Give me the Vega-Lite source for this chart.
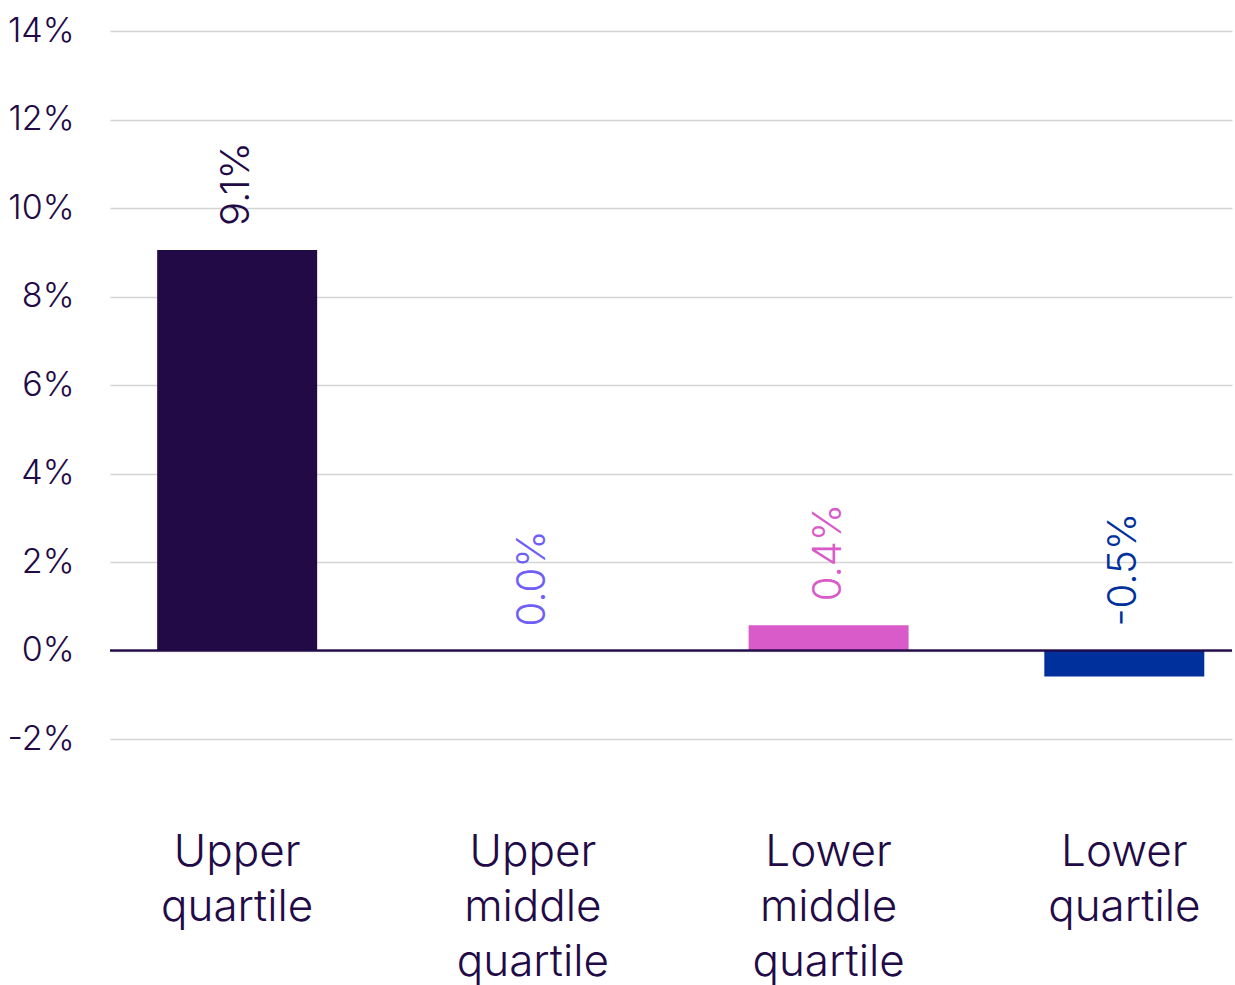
{
  "$schema": "https://vega.github.io/schema/vega-lite/v6.json",
  "width": 1122,
  "height": 708,
  "autosize": "none",
  "padding": {"left": 110, "top": 31, "right": 3, "bottom": 246},
  "background": "white",
  "config": {"view": {"stroke": null}, "font": "Inter"},
  "data": {
    "values": [
      {"group": "Upper quartile", "value": 9.05, "label": "9.1%", "color": "#220a47"},
      {"group": "Upper middle quartile", "value": 0.0, "label": "0.0%", "color": "#6f5ef7"},
      {"group": "Lower middle quartile", "value": 0.57, "label": "0.4%", "color": "#d95ac9"},
      {"group": "Lower quartile", "value": -0.59, "label": "-0.5%", "color": "#00309c"}
    ]
  },
  "layer": [
    {
      "mark": {"type": "bar"},
      "encoding": {
        "x": {
          "field": "group",
          "type": "nominal",
          "sort": null,
          "scale": {"paddingInner": 0.459, "paddingOuter": 0.1266, "align": 0.63},
          "axis": {
            "title": null,
            "domain": false,
            "ticks": false,
            "labelAngle": 0,
            "labelExpr": "split(datum.value, ' ')",
            "labelFont": "Inter",
            "labelFontWeight": 300,
            "labelFontSize": 44,
            "labelLineHeight": 55,
            "labelColor": "#220a47",
            "labelPadding": 91,
            "labelBaseline": "top"
          }
        },
        "y": {
          "field": "value",
          "type": "quantitative",
          "scale": {"domain": [-2, 14], "nice": false},
          "axis": {
            "title": null,
            "values": [-2, 0, 2, 4, 6, 8, 10, 12, 14],
            "labelExpr": "datum.value + '%'",
            "domain": false,
            "ticks": false,
            "gridColor": "#d4d4d4",
            "gridWidth": 1.5,
            "labelFont": "Inter",
            "labelFontWeight": 300,
            "labelFontSize": 34,
            "labelColor": "#220a47",
            "labelPadding": 36
          }
        },
        "y2": {"datum": 0},
        "color": {"field": "color", "type": "nominal", "scale": null, "legend": null}
      }
    },
    {
      "mark": {"type": "rule", "color": "#220a47", "strokeWidth": 1.5},
      "encoding": {"y": {"datum": 0}}
    },
    {
      "transform": [{"calculate": "max(datum.value, 0)", "as": "base"}],
      "mark": {
        "type": "text",
        "angle": 270,
        "align": "left",
        "baseline": "middle",
        "dx": 24,
        "font": "Inter",
        "fontWeight": 300,
        "fontSize": 40
      },
      "encoding": {
        "x": {"field": "group", "type": "nominal", "sort": null, "band": 0.5},
        "y": {"field": "base", "type": "quantitative"},
        "text": {"field": "label"},
        "color": {"field": "color", "type": "nominal", "scale": null, "legend": null}
      }
    }
  ]
}
